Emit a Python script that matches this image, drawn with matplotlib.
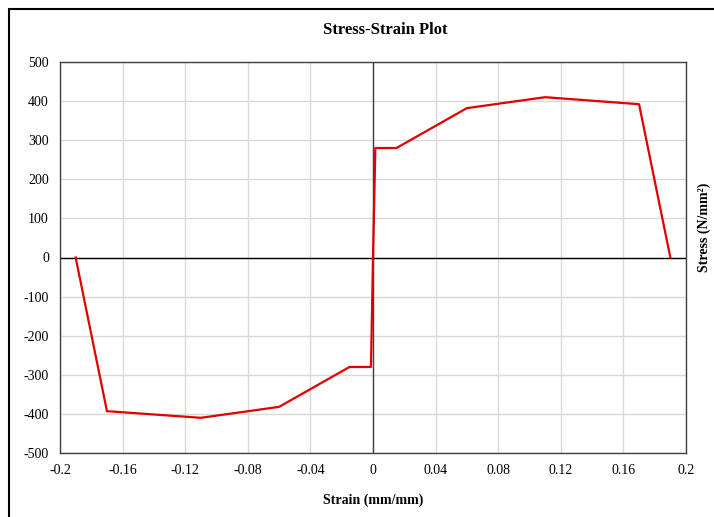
import matplotlib
matplotlib.use("Agg")
import matplotlib.pyplot as plt
from matplotlib.patches import Rectangle

plt.rcParams['font.family'] = ['Liberation Serif', 'DejaVu Serif']
plt.rcParams['axes.unicode_minus'] = False

# data
strain = [-0.19, -0.17, -0.11, -0.06, -0.015, -0.0013, 0.0, 0.0015, 0.015, 0.06, 0.11, 0.17, 0.19]
stress = [0, -393, -410, -382, -280, -280, 0, 280, 280, 382, 410, 392, 0]
xticks = [-0.2, -0.16, -0.12, -0.08, -0.04, 0, 0.04, 0.08, 0.12, 0.16, 0.2]
xtick_labels = ['-0.2', '-0.16', '-0.12', '-0.08', '-0.04', '0', '0.04', '0.08', '0.12', '0.16', '0.2']
yticks = list(range(-500, 501, 100))

fig = plt.figure(figsize=(7.14, 5.17), dpi=100)
ax = fig.add_axes([60/714, 1-453/517, 626/714, 391/517])

ax.grid(True, color='#d9d9d9', linewidth=1.0)
ax.set_axisbelow(True)
ax.axhline(0, color='black', linewidth=1.0, zorder=2)
ax.axvline(0, color='#404040', linewidth=1.0, zorder=2)
ax.plot(strain, stress, color='#e00000', linewidth=1.6, zorder=3)

ax.set_xlim(-0.2, 0.2)
ax.set_ylim(-500, 500)
ax.set_xticks(xticks)
ax.set_xticklabels(xtick_labels)
ax.set_yticks(yticks)
ax.tick_params(length=0, labelsize=10, pad=8)
for s in ax.spines.values():
    s.set_color('#404040')
    s.set_linewidth(1.0)

fig.text(385/714, 1-30/517, 'Stress-Strain Plot', ha='center', va='center',
         fontsize=12, fontweight='bold')
fig.text(373/714, 1-500/517, 'Strain (mm/mm)', ha='center', va='center',
         fontsize=10, fontweight='bold')
fig.text(704/714, 1-227/517, 'Stress (N/mm²)', ha='center', va='center',
         rotation=90, fontsize=10, fontweight='bold')

# outer chart border (open on the right and bottom, as in the crop)
fig.patches.append(Rectangle((9/714, -0.05), 1.0, 1.05 - 9/517, transform=fig.transFigure,
                             fill=False, edgecolor='black', linewidth=1.5))

fig.savefig('out.png', dpi=100)
